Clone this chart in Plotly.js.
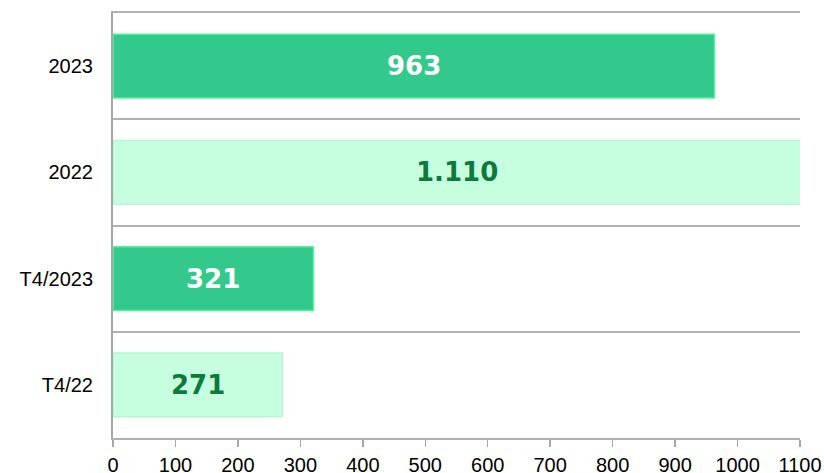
<!DOCTYPE html>
<html>
<head>
<meta charset="utf-8">
<script src="https://cdn.plot.ly/plotly-3.0.1.min.js"></script>
<style>
  html, body { margin: 0; padding: 0; background: #fff; }
  #chart { width: 824px; height: 473px; }
</style>
</head>
<body>
<div id="chart"></div>
<script>
// periods, top to bottom
const periods = ['2023', '2022', 'T4/2023', 'T4/22'];
const values = [963, 1110, 321, 271];
const xTicks = [0, 100, 200, 300, 400, 500, 600, 700, 800, 900, 1000, 1100];
const xMax = 1100;

const dark = '#34C98C';
const light = '#C6FFE0';
const barColors = [dark, light, dark, light];
const edgeColors = ['#55F29C', '#B8F5D4', '#55F29C', '#B8F5D4'];
const labelColors = ['#ffffff', '#0B7A3A', '#ffffff', '#0B7A3A'];

const trace = {
  type: 'bar',
  orientation: 'h',
  y: periods,
  x: values,
  width: 0.6,
  marker: {
    color: barColors,
    line: { color: edgeColors, width: 1.5 }
  },
  hoverinfo: 'skip'
};

// value labels centred on the visible part of each bar (y = category index)
const labels = periods.map((p, i) => ({
  x: Math.min(values[i], xMax) / 2,
  y: i,
  xref: 'x',
  yref: 'y',
  text: values[i].toLocaleString('de-DE'),
  showarrow: false,
  font: { family: 'DejaVu Sans', size: 26, color: labelColors[i], weight: 'bold' }
}));

const tickFont = { family: 'Liberation Sans', size: 20, color: '#000' };

const layout = {
  width: 824,
  height: 473,
  margin: { l: 113, r: 24, t: 13, b: 35 },
  paper_bgcolor: '#ffffff',
  plot_bgcolor: '#ffffff',
  showlegend: false,
  annotations: labels,
  xaxis: {
    range: [0, xMax],
    tickvals: xTicks,
    ticks: 'outside',
    ticklen: 7,
    tickwidth: 1.5,
    tickcolor: '#A6A6A6',
    showline: true,
    mirror: true,
    linecolor: '#B0B0B0',
    linewidth: 2,
    showgrid: false,
    zeroline: false,
    tickfont: tickFont,
    ticklabeloverflow: 'allow',
    ticklabelstandoff: 1,
    fixedrange: true
  },
  yaxis: {
    type: 'category',
    categoryorder: 'array',
    categoryarray: periods,
    autorange: 'reversed',
    tickson: 'boundaries',
    ticks: '',
    showline: true,
    linecolor: '#A6A6A6',
    linewidth: 2,
    showgrid: true,
    gridcolor: '#B0B0B0',
    gridwidth: 2,
    tickfont: tickFont,
    ticklabelstandoff: 14,
    fixedrange: true
  }
};

Plotly.newPlot('chart', [trace], layout, { displayModeBar: false, staticPlot: true });
</script>
</body>
</html>
